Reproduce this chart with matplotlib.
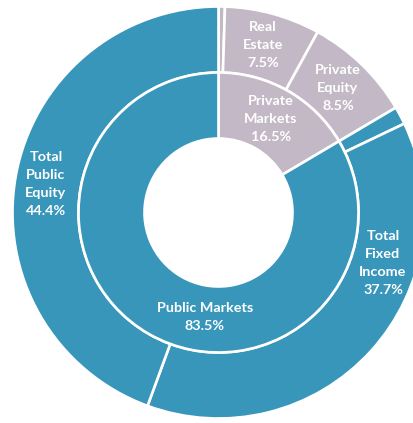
import numpy as np
import matplotlib
matplotlib.use("Agg")
import matplotlib.pyplot as plt

# datos del grafico
inner_labels = ["Private\nMarkets\n16.5%", "Public Markets\n83.5%"]
inner_vals = [16.5, 83.5]
outer_names = ["Other Private", "Real Estate", "Private Equity", "Other Public",
               "Total Fixed Income", "Total Public Equity"]
outer_vals = [0.5, 7.5, 8.5, 1.4, 37.7, 44.4]
outer_labels = ["", "Real\nEstate\n7.5%", "Private\nEquity\n8.5%", "",
                "Total\nFixed\nIncome\n37.7%", "Total\nPublic\nEquity\n44.4%"]

blue = "#3896bb"
mauve = "#c3b9c6"
inner_colors = [mauve, blue]
outer_colors = [mauve, mauve, mauve, blue, blue, blue]

W, H = 414, 423
cx, cy = 218.5, 212.5   # centro en pixeles (desde arriba a la izquierda)
R_out, R_mid, R_in = 206, 140, 74

fig = plt.figure(figsize=(W / 100, H / 100), dpi=100)
ax = fig.add_axes([0, 0, 1, 1])

wp = dict(edgecolor="white", linewidth=1.9)
ax.pie(outer_vals, radius=R_out, colors=outer_colors, startangle=90,
       counterclock=False, wedgeprops=dict(width=R_out - R_mid, **wp), frame=True)
ax.pie(inner_vals, radius=R_mid, colors=inner_colors, startangle=90,
       counterclock=False, wedgeprops=dict(width=R_mid - R_in, **wp), frame=True)
ax.set_xlim(-cx, W - cx)
ax.set_ylim(-(H - cy), cy)
ax.set_aspect("equal")
ax.axis("off")

# posiciones de las etiquetas en pixeles
pos_outer = [None, (263, 45), (338, 88), None, (383, 263), (46, 184)]
pos_inner = [(271, 119), (205, 317)]

tk = dict(color="white", fontsize=10.4, fontweight="bold", family="Lato",
          ha="center", va="center", linespacing=1.58)
for lab, p in zip(outer_labels, pos_outer):
    if p is not None:
        ax.text(p[0] - cx, cy - p[1], lab, **tk)
for lab, p in zip(inner_labels, pos_inner):
    ax.text(p[0] - cx, cy - p[1], lab, **tk)

fig.savefig("out.png", dpi=100)
